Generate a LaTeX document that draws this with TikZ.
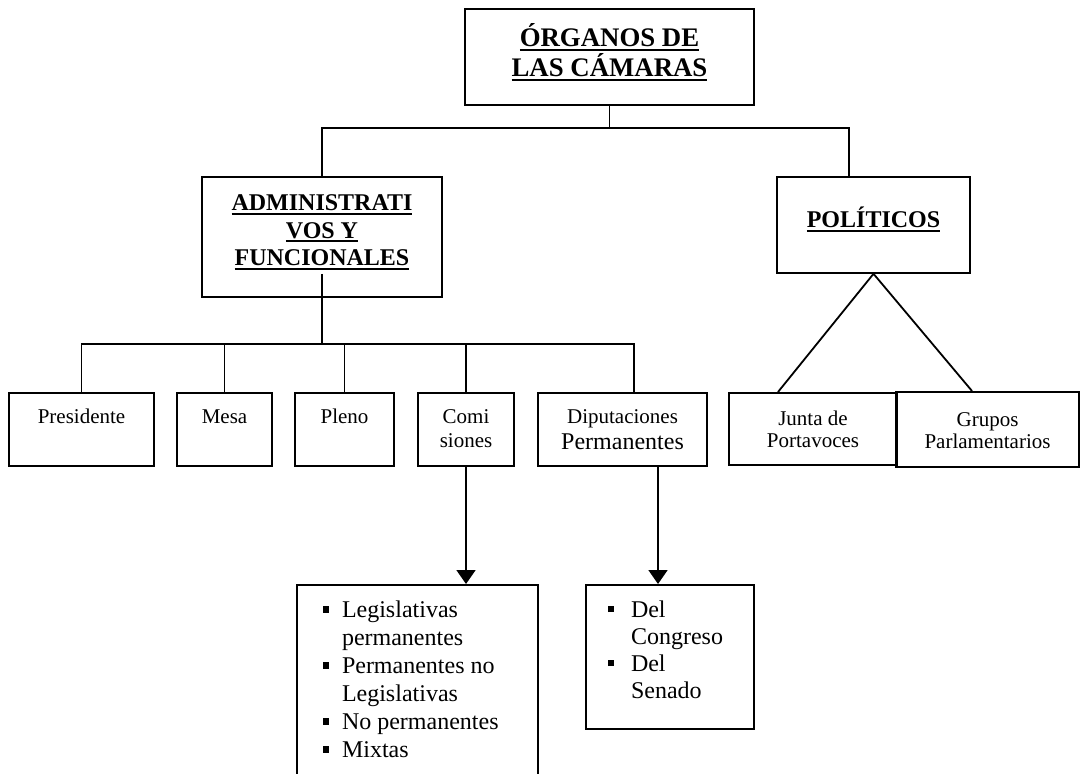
\documentclass[tikz,border=0pt]{standalone}
\usepackage{fontspec}
\setmainfont{Liberation Serif}
\usetikzlibrary{arrows.meta}

% underlined heading text, word style
\newcommand{\ulbox}[1]{\setbox0=\hbox{#1}\rlap{\rule[-2pt]{\wd0}{1pt}}\box0}
% square bullet
\newcommand{\sqbul}[1]{\makebox[#1][l]{\rule[2.7pt]{3.2pt}{3.2pt}}}

\tikzset{box/.style={draw, line width=0.9pt, align=center, inner sep=0pt, anchor=north}}
\tikzset{small/.style={font=\fontsize{10.5pt}{12pt}\selectfont}}
\tikzset{title/.style={font=\bfseries\fontsize{12pt}{13.75pt}\selectfont}}
\tikzset{row/.style={box, small, text height=15.35pt, text depth=21.15pt}}
\tikzset{link/.style={line width=0.9pt}}
\tikzset{arr/.style={line width=0.9pt, -{Triangle[length=7pt,width=9.5pt]}}}

\begin{document}
\begin{tikzpicture}[x=0.5pt,y=-0.5pt]
\useasboundingbox (0,0) rectangle (1080,774);

\node[box, font=\bfseries\fontsize{13.4pt}{15pt}\selectfont, minimum width=144.5pt, text height=34pt, text depth=14pt] (org) at (609.5,8) {\ulbox{ÓRGANOS DE}\\\ulbox{LAS CÁMARAS}};

\node[box, title, minimum width=120pt, text height=44.5pt, text depth=15.5pt] (adm) at (322,176) {\ulbox{ADMINISTRATI}\\\ulbox{VOS Y}\\\ulbox{FUNCIONALES}};
\node[box, title, minimum width=96.5pt, text height=25.35pt, text depth=22.65pt] (pol) at (873.5,176) {\ulbox{POLÍTICOS}};

\node[row, minimum width=72.5pt] (pres) at (81.5,392) {Presidente};
\node[row, minimum width=47.5pt] (mesa) at (224.5,392) {Mesa};
\node[row, minimum width=49.5pt] (pleno) at (344.5,392) {Pleno};
\node[row, minimum width=48pt, text height=27.5pt, text depth=9pt] (comi) at (466,392) {Comi\\siones};
\node[row, minimum width=84.5pt, text height=28.5pt, text depth=8pt] (dip) at (622.5,392) {Diputaciones\\[1pt]{\fontsize{12pt}{14pt}\selectfont Permanentes}};

\node[box, small, minimum width=84pt, text height=27.35pt, text depth=8.65pt] (junta) at (813,392) {Junta de\\[-1pt]Portavoces};
\node[box, small, minimum width=91.5pt, text height=28.35pt, text depth=9.15pt] (grupos) at (987.5,391) {Grupos\\[-1pt]Parlamentarios};

\node[box, align=flush left, inner xsep=13pt, text width=94.5pt, font=\fontsize{12pt}{14pt}\selectfont, text height=16.5pt, text depth=91.5pt] (legis) at (417.5,584) {\sqbul{9.5pt}Legislativas\\\hspace*{9.5pt}permanentes\\\sqbul{9.5pt}Permanentes no\\\hspace*{9.5pt}Legislativas\\\sqbul{9.5pt}No permanentes\\\sqbul{9.5pt}Mixtas};
\node[box, align=flush left, inner xsep=11pt, text width=62pt, font=\fontsize{12pt}{13.5pt}\selectfont, text height=16.35pt, text depth=55.65pt] (del) at (670,584) {\sqbul{11.5pt}Del\\\hspace*{11.5pt}Congreso\\\sqbul{11.5pt}Del\\\hspace*{11.5pt}Senado};

% upper level
\coordinate (topbus) at (610,128);
\draw[link] (org.south) -- (org.south |- topbus);
\draw[link] (adm.north) |- (topbus) -| ([xshift=-12.25pt]pol.north);

% administrative branch
\coordinate (midbus) at (322,344);
\draw[link] ([yshift=12pt]adm.south) -- (midbus);
\draw[link] (pres.north) |- (midbus) -| ([xshift=5.75pt]dip.north);
\foreach \n in {mesa,pleno,comi}
  \draw[link] (\n.north) -- (\n.north |- midbus);

% political branch
\draw[link] ([xshift=-17.5pt]junta.north) -- (pol.south) -- ([xshift=-7.75pt]grupos.north);

\draw[arr] (comi.south) -- (comi.south |- legis.north);
\draw[arr] ([xshift=17.75pt]dip.south) coordinate (dipfoot) -- (dipfoot |- del.north);
\end{tikzpicture}
\end{document}
